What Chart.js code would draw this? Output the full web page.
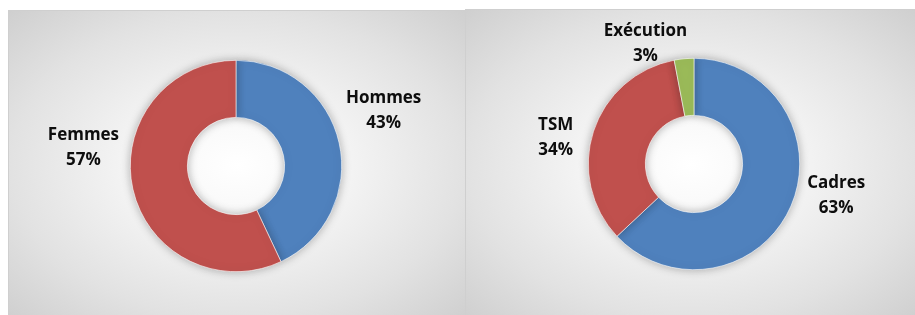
<!DOCTYPE html>
<html>
<head>
<meta charset="utf-8">
<script src="https://cdn.jsdelivr.net/npm/chart.js@4"></script>
<style>
  html, body { margin: 0; padding: 0; background: #fff; }
  body { width: 915px; height: 315px; position: relative; overflow: hidden; }
  .panel {
    position: absolute;
    box-sizing: border-box;
    border: 1px solid #cfcfcf;
    background: radial-gradient(ellipse at 50% 50%, #ffffff 0%, #f6f6f6 30%, #e2e2e2 70%, #cfcfcf 100%);
  }
  #p1 { left: 8px; top: 10px; width: 458px; height: 310px; }
  #p2 { left: 465px; top: 9px; width: 452px; height: 311px; }
  canvas { display: block; }
</style>
</head>
<body>
<div class="panel" id="p1"><canvas id="chart_sexe"></canvas></div>
<div class="panel" id="p2"><canvas id="chart_cat"></canvas></div>
<script>
const sexe_labels = ["Hommes", "Femmes"];
const sexe_values = [43, 57];
const cat_labels = ["Cadres", "TSM", "Exécution"];
const cat_values = [63, 34, 3];

const blue = "#4F81BD";
const red = "#C0504D";
const green = "#9BBB59";

// soft shadow under the ring, like the office chart
const shadow_plugin = {
  id: "ring_shadow",
  beforeDatasetsDraw(chart) {
    const ctx = chart.ctx;
    ctx.save();
    ctx.shadowColor = "rgba(0,0,0,0.3)";
    ctx.shadowBlur = 10;
    ctx.shadowOffsetX = 0;
    ctx.shadowOffsetY = 0;
  },
  afterDatasetsDraw(chart) {
    chart.ctx.restore();
  }
};

// label "Name / NN%" outside each slice
const outside_labels = {
  id: "outside_labels",
  afterDraw(chart, args, opts) {
    const ctx = chart.ctx;
    const meta = chart.getDatasetMeta(0);
    const data = chart.data.datasets[0].data;
    const total = data.reduce((a, b) => a + b, 0);
    ctx.save();
    ctx.font = "bold 17px 'Open Sans'";
    ctx.fillStyle = "#0d0d0d";
    ctx.textAlign = "center";
    ctx.textBaseline = "middle";
    meta.data.forEach((arc, i) => {
      const p = arc.getProps(["x", "y", "startAngle", "endAngle", "outerRadius"], true);
      let a = (p.startAngle + p.endAngle) / 2 + (opts.shift[i] || 0) * Math.PI / 180;
      let d = p.outerRadius + (opts.gap[i] || 40);
      let cx = p.x + d * Math.cos(a);
      let cy = p.y + d * Math.sin(a);
      let pct = Math.round(data[i] / total * 100) + "%";
      ctx.fillText(chart.data.labels[i], cx, cy - 12.5);
      ctx.fillText(pct, cx, cy + 12.5);
    });
    ctx.restore();
  }
};

function make_chart(id, labels, values, colors, w, h, padding, placement) {
  const canvas = document.getElementById(id);
  canvas.width = w;
  canvas.height = h;
  return new Chart(canvas, {
    type: "doughnut",
    data: {
      labels: labels,
      datasets: [{
        data: values,
        backgroundColor: colors,
        borderColor: "#ffffff",
        borderWidth: 0.6,
        hoverOffset: 0
      }]
    },
    options: {
      responsive: false,
      animation: false,
      cutout: "46%",
      layout: { padding: padding },
      plugins: {
        legend: { display: false },
        tooltip: { enabled: false },
        outside_labels: placement
      }
    },
    plugins: [shadow_plugin, outside_labels]
  });
}

make_chart("chart_sexe", sexe_labels, sexe_values, [blue, red], 456, 308,
  { top: 49, bottom: 47, left: 60, right: 62 },
  { shift: [-8, 19.6], gap: [52, 48] });

make_chart("chart_cat", cat_labels, cat_values, [blue, red, green], 450, 309,
  { top: 48, bottom: 49, left: 64, right: 58 },
  { shift: [-10.8, -7.4, -16.6], gap: [40, 35, 24] });
</script>
</body>
</html>
